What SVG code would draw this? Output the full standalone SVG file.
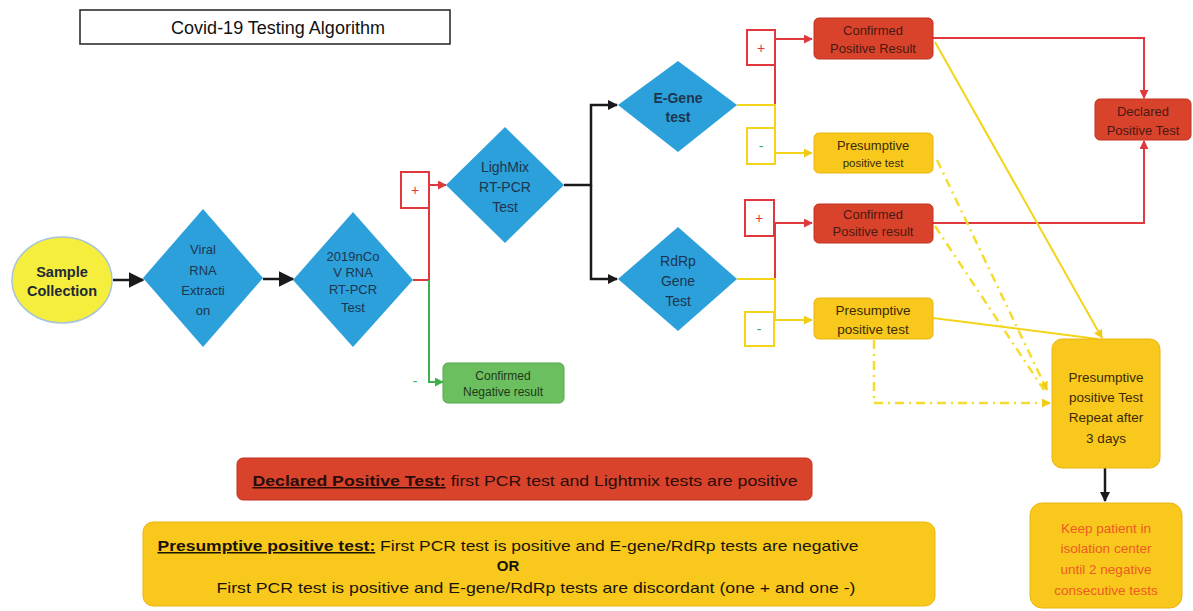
<svg xmlns="http://www.w3.org/2000/svg" width="1193" height="611" viewBox="0 0 1193 611">
<defs>
<style>
text{font-family:"Liberation Sans","Open Sans",Arial,sans-serif;text-anchor:middle}
.dia{fill:#2ba0da}
.dt{fill:#1e3550;font-size:13px}
.red{fill:#d9432c;stroke:#c2301f;stroke-width:1}
.yel{fill:#f8c81d;stroke:#eab413;stroke-width:1}
.grn{fill:#6cbf5f;stroke:#55a84a;stroke-width:1}
.rt{fill:#4a1a10;font-size:13px}
.yt{fill:#3a2a05;font-size:13.5px}
.lr{fill:none;stroke:#e0383c;stroke-width:2}
.ly{fill:none;stroke:#f4d418;stroke-width:2}
.lg{fill:none;stroke:#3cb04a;stroke-width:2}
.lk{fill:none;stroke:#1a1a1a;stroke-width:2.5}
.dd{fill:none;stroke:#f4dc30;stroke-width:2.5;stroke-dasharray:9 5 2 5}
.pb{fill:#fff;stroke-width:2}
</style>
<marker id="ar" viewBox="0 0 10 10" refX="9" refY="5" markerWidth="9" markerHeight="9" markerUnits="userSpaceOnUse" orient="auto"><path d="M0,0 L10,5 L0,10 z" fill="#e0383c"/></marker>
<marker id="ay" viewBox="0 0 10 10" refX="9" refY="5" markerWidth="9" markerHeight="9" markerUnits="userSpaceOnUse" orient="auto"><path d="M0,0 L10,5 L0,10 z" fill="#f0cc14"/></marker>
<marker id="ag" viewBox="0 0 10 10" refX="9" refY="5" markerWidth="9" markerHeight="9" markerUnits="userSpaceOnUse" orient="auto"><path d="M0,0 L10,5 L0,10 z" fill="#3cb04a"/></marker>
<marker id="ak" viewBox="0 0 10 10" refX="9" refY="5" markerWidth="10" markerHeight="10" markerUnits="userSpaceOnUse" orient="auto"><path d="M0,0 L10,5 L0,10 z" fill="#1a1a1a"/></marker>
<marker id="akb" viewBox="0 0 10 10" refX="9" refY="5" markerWidth="16" markerHeight="18" markerUnits="userSpaceOnUse" orient="auto"><path d="M0,0 L10,5 L0,10 z" fill="#1a1a1a"/></marker>
</defs>

<g id="title">
<rect x="80" y="10" width="370" height="34" fill="#fff" stroke="#222" stroke-width="1.5"/>
<text x="278" y="34" font-size="18" fill="#111">Covid-19 Testing Algorithm</text>
</g>

<g id="connectors">
<path class="lk" d="M113,280 H143" stroke-width="5" marker-end="url(#akb)"/>
<path class="lk" d="M263,279 H293" stroke-width="5" marker-end="url(#akb)"/>
<path class="lr" d="M413,280 H429 V185 H446" marker-end="url(#ar)"/>
<path class="lg" d="M429,280 V382 H443" marker-end="url(#ag)"/>
<path class="lk" d="M564,185 H591 V105 H617" marker-end="url(#ak)"/>
<path class="lk" d="M591,185 V279 H617" marker-end="url(#ak)"/>
<path class="lr" d="M775,105 V39 H812" marker-end="url(#ar)"/>
<path class="ly" d="M737,105 H775 V153 H812" marker-end="url(#ay)"/>
<path class="lr" d="M775,279 V223 H812" marker-end="url(#ar)"/>
<path class="ly" d="M737,279 H775 V320 H812" marker-end="url(#ay)"/>
<path class="lr" d="M933,38 H1144 V98" marker-end="url(#ar)"/>
<path class="lr" d="M933,223 H1144 V141" marker-end="url(#ar)"/>
<path class="ly" d="M935,42 L1102,338" marker-end="url(#ay)"/>
<path class="ly" d="M933,318 L1098,339"/>
<path class="dd" d="M937,160 L1047,390" marker-end="url(#ay)"/>
<path class="dd" d="M935,226 L1044,390"/>
<path class="dd" d="M874,340 V403 H1050" marker-end="url(#ay)"/>
<path class="lk" d="M1105,468 V501" marker-end="url(#ak)"/>
</g>

<g id="sample">
<ellipse cx="62" cy="280" rx="50" ry="43" fill="#f5ee3c" stroke="#a9c4d8" stroke-width="1.5"/>
<text x="62" y="277" font-size="14.5" font-weight="bold" fill="#1e2a35">Sample</text>
<text x="62" y="296" font-size="14.5" font-weight="bold" fill="#1e2a35">Collection</text>
</g>

<g id="viral">
<path class="dia" d="M203,209 L263,278 L203,347 L143,278 Z"/>
<text class="dt" x="203" y="254">Viral</text>
<text class="dt" x="203" y="275">RNA</text>
<text class="dt" x="203" y="295">Extracti</text>
<text class="dt" x="203" y="315">on</text>
</g>

<g id="pcr">
<path class="dia" d="M353,212 L413,280 L353,347 L293,280 Z"/>
<text class="dt" x="353" y="261">2019nCo</text>
<text class="dt" x="353" y="277">V RNA</text>
<text class="dt" x="353" y="294">RT-PCR</text>
<text class="dt" x="353" y="312">Test</text>
</g>

<g id="plus1">
<rect x="401" y="172" width="28" height="36" class="pb" stroke="#e0383c"/>
<text x="415" y="195" font-size="14" fill="#e0383c">+</text>
</g>
<text id="minus1" x="415" y="386" font-size="14" fill="#3cb04a">-</text>

<g id="negative">
<rect x="443" y="363" width="121" height="40" rx="5" class="grn"/>
<text x="503" y="380" font-size="12" fill="#1c3a18">Confirmed</text>
<text x="503" y="396" font-size="12" fill="#1c3a18">Negative result</text>
</g>

<g id="lightmix">
<path class="dia" d="M505,127 L564,185 L505,243 L446,185 Z"/>
<text x="505" y="172" font-size="14" fill="#1e3550">LighMix</text>
<text x="505" y="192" font-size="14" fill="#1e3550">RT-PCR</text>
<text x="505" y="212" font-size="14" fill="#1e3550">Test</text>
</g>

<g id="egene">
<path class="dia" d="M678,61 L737,105 L678,152 L618,105 Z"/>
<text x="678" y="103" font-size="14" font-weight="bold" fill="#1e3550">E-Gene</text>
<text x="678" y="122" font-size="14" font-weight="bold" fill="#1e3550">test</text>
</g>

<g id="rdrp">
<path class="dia" d="M678,227 L737,279 L678,331 L618,279 Z"/>
<text x="678" y="266" font-size="14" fill="#1e3550">RdRp</text>
<text x="678" y="286" font-size="14" fill="#1e3550">Gene</text>
<text x="678" y="306" font-size="14" fill="#1e3550">Test</text>
</g>

<g id="plus2">
<rect x="747" y="30" width="28" height="35" class="pb" stroke="#e0383c"/>
<text x="761" y="53" font-size="14" fill="#e0383c">+</text>
</g>
<g id="minus2">
<rect x="747" y="128" width="28" height="36" class="pb" stroke="#f4d418"/>
<text x="761" y="151" font-size="14" fill="#3cb04a">-</text>
</g>
<g id="plus3">
<rect x="745" y="200" width="29" height="36" class="pb" stroke="#e0383c"/>
<text x="759" y="223" font-size="14" fill="#e0383c">+</text>
</g>
<g id="minus3">
<rect x="745" y="312" width="29" height="34" class="pb" stroke="#f4d418"/>
<text x="759" y="334" font-size="14" fill="#3cb04a">-</text>
</g>

<g id="confpos1">
<rect x="814" y="18" width="119" height="41" rx="5" class="red"/>
<text class="rt" x="873" y="35">Confirmed</text>
<text class="rt" x="873" y="53">Positive Result</text>
</g>

<g id="presump1">
<rect x="814" y="133" width="119" height="40" rx="5" class="yel"/>
<text x="873" y="150" font-size="13" fill="#3a2a05">Presumptive</text>
<text x="873" y="167" font-size="11.5" fill="#3a2a05">positive test</text>
</g>

<g id="confpos2">
<rect x="814" y="204" width="119" height="39" rx="5" class="red"/>
<text class="rt" x="873" y="219">Confirmed</text>
<text class="rt" x="873" y="236" font-size="11.5">Positive result</text>
</g>

<g id="presump2">
<rect x="814" y="298" width="119" height="41" rx="5" class="yel"/>
<text class="yt" x="873" y="315">Presumptive</text>
<text class="yt" x="873" y="334">positive test</text>
</g>

<g id="declared">
<rect x="1095" y="99" width="96" height="41" rx="5" class="red"/>
<text class="rt" x="1143" y="116" font-size="13.5">Declared</text>
<text class="rt" x="1143" y="135" font-size="13.5">Positive Test</text>
</g>

<g id="repeat">
<rect x="1052" y="339" width="108" height="129" rx="10" class="yel"/>
<text class="yt" x="1106" y="382" font-size="14">Presumptive</text>
<text class="yt" x="1106" y="402" font-size="14">positive Test</text>
<text class="yt" x="1106" y="422" font-size="14">Repeat after</text>
<text class="yt" x="1106" y="443" font-size="14">3 days</text>
</g>

<g id="keep">
<rect x="1030" y="503" width="152" height="105" rx="12" class="yel"/>
<text x="1106" y="533" font-size="13.5" fill="#ee5a24">Keep patient in</text>
<text x="1106" y="553" font-size="13.5" fill="#ee5a24">isolation center</text>
<text x="1106" y="574" font-size="13.5" fill="#ee5a24">until 2 negative</text>
<text x="1106" y="595" font-size="13.5" fill="#ee5a24">consecutive tests</text>
</g>

<g id="legend-declared">
<rect x="237" y="458" width="575" height="42" rx="6" class="red"/>
<text x="525" y="486" font-size="15" fill="#2a0c08" textLength="545" lengthAdjust="spacingAndGlyphs"><tspan font-weight="bold" text-decoration="underline">Declared Positive Test:</tspan> first PCR test and Lightmix tests are positive</text>
</g>

<g id="legend-presump">
<rect x="143" y="522" width="792" height="84" rx="10" class="yel"/>
<text x="508" y="551" font-size="15" fill="#1a1408" textLength="701" lengthAdjust="spacingAndGlyphs"><tspan font-weight="bold" text-decoration="underline">Presumptive positive test:</tspan> First PCR test is positive and E-gene/RdRp tests are negative</text>
<text x="508" y="571" font-size="15" font-weight="bold" fill="#1a1408">OR</text>
<text x="536" y="593" font-size="15" fill="#1a1408" textLength="639" lengthAdjust="spacingAndGlyphs">First PCR test is positive and E-gene/RdRp tests are discordant (one + and one -)</text>
</g>
</svg>
